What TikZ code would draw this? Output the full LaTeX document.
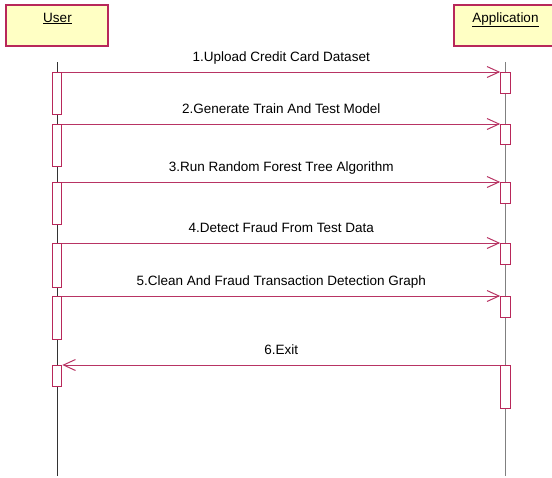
\documentclass[tikz,border=0pt]{standalone}
\usepackage{fontspec}
\setmainfont{Liberation Sans}
\usetikzlibrary{arrows.meta}
\definecolor{boxfill}{HTML}{FFFFC4}
\definecolor{boxline}{HTML}{B8285A}
\definecolor{msgline}{HTML}{B83464}
\begin{document}
\begin{tikzpicture}[x=1pt,y=-1pt,
  header/.style={draw=boxline,fill=boxfill,line width=1.3pt},
  lifeline/.style={line width=0.9pt},
  actbox/.style={draw=boxline,fill=white,line width=1.1pt,inner sep=0pt,
    minimum width=9.5pt,anchor=north},
  msg/.style={draw=msgline,line width=1pt,
    -{Straight Barb[length=12pt,width=11pt,line width=1pt]}},
  msglabel/.style={font=\fontsize{13.5}{16}\selectfont,anchor=base},
  title/.style={font=\fontsize{13.5}{16}\selectfont,anchor=base}]
\useasboundingbox (0,0) rectangle (552,477);

% participant heads
\path[header] (6,5) rectangle (108,46);
\path[header] (454,5) rectangle (560,46);
\node[title] (user) at (57.5,22) {\underline{User}};
\node[title] (app) at (505.5,22) {\underline{Application}};

% lifelines
\coordinate (utop) at (57,62);
\coordinate (ubot) at (57,476);
\coordinate (atop) at (505.5,62);
\coordinate (abot) at (505.5,476);
\draw[lifeline,draw=black!80] (utop) -- (ubot);
\draw[lifeline,draw=black!50] (atop) -- (abot);

% activation bars on the user lifeline
\node[actbox,minimum height=42pt] (u1) at (57,72) {};
\node[actbox,minimum height=42pt] (u2) at (57,124) {};
\node[actbox,minimum height=42pt] (u3) at (57,182) {};
\node[actbox,minimum height=44pt] (u4) at (57,243) {};
\node[actbox,minimum height=43pt] (u5) at (57,296) {};
\node[actbox,minimum height=21pt] (u6) at (57,365) {};

% activation bars on the application lifeline
\node[actbox,minimum height=21pt] (a1) at (505.5,72) {};
\node[actbox,minimum height=20pt] (a2) at (505.5,124) {};
\node[actbox,minimum height=21pt] (a3) at (505.5,182) {};
\node[actbox,minimum height=21pt] (a4) at (505.5,243) {};
\node[actbox,minimum height=21pt] (a5) at (505.5,296) {};
\node[actbox,minimum height=43pt] (a6) at (505.5,365) {};

% messages
\draw[msg] (u1.north east) -- node[msglabel,yshift=11pt] {1.Upload Credit Card Dataset} (a1.north west);
\draw[msg] (u2.north east) -- node[msglabel,yshift=11pt] {2.Generate Train And Test Model} (a2.north west);
\draw[msg] (u3.north east) -- node[msglabel,yshift=11pt] {3.Run Random Forest Tree Algorithm} (a3.north west);
\draw[msg] (u4.north east) -- node[msglabel,yshift=11pt] {4.Detect Fraud From Test Data} (a4.north west);
\draw[msg] (u5.north east) -- node[msglabel,yshift=11pt] {5.Clean And Fraud Transaction Detection Graph} (a5.north west);
\draw[msg] (a6.north west) -- node[msglabel,yshift=11pt] {6.Exit} (u6.north east);
\end{tikzpicture}
\end{document}
